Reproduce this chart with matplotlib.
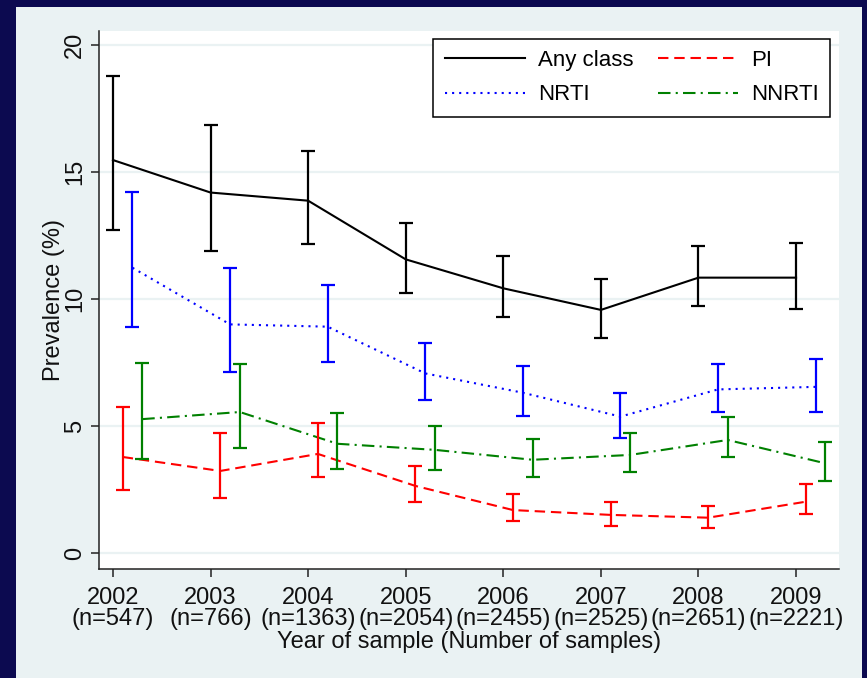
import matplotlib
matplotlib.use("Agg")
import matplotlib.pyplot as plt
from matplotlib.patches import Rectangle
import numpy as np

plt.rcParams['font.family'] = ['Liberation Sans', 'DejaVu Sans']

years = np.array([2002, 2003, 2004, 2005, 2006, 2007, 2008, 2009])
n_samples = [547, 766, 1363, 2054, 2455, 2525, 2651, 2221]

# prevalence (%) with 95% CI
any_mid = np.array([15.47, 14.19, 13.87, 11.56, 10.42, 9.57, 10.84, 10.84])
any_lo = np.array([12.70, 11.89, 12.15, 10.22, 9.28, 8.48, 9.72, 9.62])
any_hi = np.array([18.77, 16.84, 15.84, 13.00, 11.70, 10.79, 12.09, 12.22])

pi_mid = np.array([3.78, 3.23, 3.90, 2.64, 1.69, 1.50, 1.39, 2.02])
pi_lo = np.array([2.48, 2.17, 3.00, 2.02, 1.26, 1.06, 1.00, 1.54])
pi_hi = np.array([5.75, 4.72, 5.12, 3.43, 2.31, 2.02, 1.85, 2.70])

nrti_mid = np.array([11.23, 9.00, 8.91, 7.07, 6.31, 5.37, 6.44, 6.54])
nrti_lo = np.array([8.90, 7.13, 7.53, 6.02, 5.41, 4.51, 5.56, 5.56])
nrti_hi = np.array([14.22, 11.22, 10.54, 8.26, 7.36, 6.29, 7.43, 7.65])

nnrti_mid = np.array([5.27, 5.55, 4.30, 4.06, 3.67, 3.86, 4.45, 3.53])
nnrti_lo = np.array([3.70, 4.13, 3.30, 3.27, 2.98, 3.20, 3.77, 2.85])
nnrti_hi = np.array([7.48, 7.45, 5.50, 5.00, 4.49, 4.71, 5.34, 4.36])

navy = '#0c0a50'
panel = '#eaf2f3'

fig = plt.figure(figsize=(8.67, 6.78), dpi=100, facecolor=navy)
fig.patches.append(Rectangle((16 / 867, 0), (862 - 16) / 867, 1 - 7 / 678,
                             transform=fig.transFigure, facecolor=panel,
                             edgecolor='none', zorder=-10))
ax = fig.add_axes([99 / 867, 1 - 569 / 678, (839 - 99) / 867, (569 - 31) / 678])
ax.set_facecolor('white')

series = [
    ("Any class", any_mid, any_lo, any_hi, 'black', '-', 0.0),
    ("PI", pi_mid, pi_lo, pi_hi, '#ff0000', (0, (5, 2.8)), 0.1),
    ("NRTI", nrti_mid, nrti_lo, nrti_hi, '#0000ff', (0, (1, 2.4)), 0.2),
    ("NNRTI", nnrti_mid, nnrti_lo, nnrti_hi, '#008000', (0, (6, 2.5, 1, 2.5)), 0.3),
]

handles = []
for name, mid, lo, hi, col, ls, off in series:
    x = years + off
    ln, = ax.plot(x, mid, color=col, linestyle=ls, lw=1.5, label=name, zorder=3)
    ax.errorbar(x, mid, yerr=[mid - lo, hi - mid], fmt='none', ecolor=col,
                elinewidth=1.6, capsize=5, capthick=1.6, zorder=4)
    handles.append(ln)

ax.set_xlim(2001.857, 2009.44)
ax.set_ylim(-0.63, 20.55)
ax.set_yticks([0, 5, 10, 15, 20])
ax.set_xticks(years)
ax.set_xticklabels([f"{y}\n(n={n})" for y, n in zip(years, n_samples)],
                   linespacing=0.92)
for lab in ax.get_yticklabels():
    lab.set_rotation(90)
    lab.set_va('center')

ax.grid(axis='y', color=panel, lw=1.6, zorder=0)
ax.set_axisbelow(True)
for s in ['top', 'right']:
    ax.spines[s].set_visible(False)
for s in ['left', 'bottom']:
    ax.spines[s].set_color('#222222')
    ax.spines[s].set_linewidth(1.1)
ax.tick_params(axis='both', labelsize=17, length=6, width=1.1, color='#222222',
               labelcolor='#111111')
ax.tick_params(axis='y', pad=3.5)
ax.tick_params(axis='x', pad=7)

ax.set_xlabel("Year of sample (Number of samples)", fontsize=17, labelpad=1,
              color='#111111')
ax.set_ylabel("Prevalence (%)", fontsize=17, labelpad=-1, color='#111111')

# legend order: Any class, PI / NRTI, NNRTI (row-wise)
order = [handles[0], handles[2], handles[1], handles[3]]
leg = ax.legend(handles=order, ncol=2, loc='upper right',
                bbox_to_anchor=(830 / 867, 1 - 39 / 678),
                bbox_transform=fig.transFigure, borderaxespad=0,
                fontsize=16, handlelength=3.6, handletextpad=0.6,
                columnspacing=1.1, labelspacing=0.6, fancybox=False,
                framealpha=1, edgecolor='black', borderpad=0.5)
leg.get_frame().set_linewidth(1.1)

fig.savefig("out.png", dpi=100, facecolor=navy)
